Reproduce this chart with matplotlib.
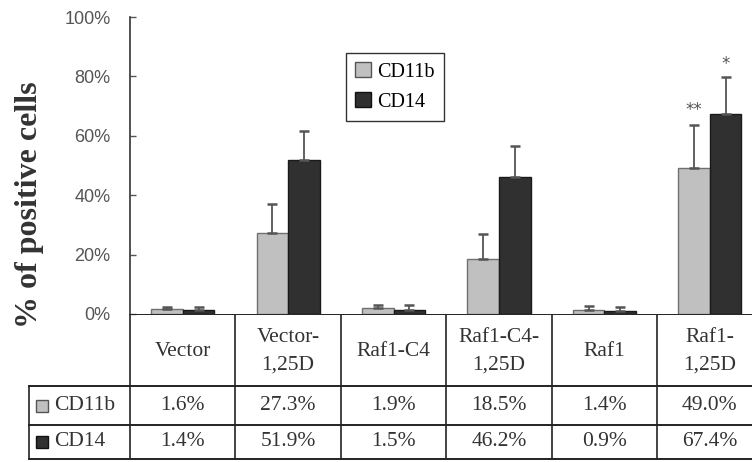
import numpy as np
import matplotlib.pyplot as plt
from matplotlib.patches import Patch

groups = ['Vector', 'Vector-\n1,25D', 'Raf1-C4', 'Raf1-C4-\n1,25D', 'Raf1', 'Raf1-\n1,25D']
cd11b = [1.6, 27.3, 1.9, 18.5, 1.4, 49.0]
cd14 = [1.4, 51.9, 1.5, 46.2, 0.9, 67.4]
cd11b_err = [0.8, 9.7, 1.1, 8.4, 1.3, 14.6]
cd14_err = [1.0, 9.7, 1.5, 10.4, 1.6, 12.4]
cd11b_txt = ['1.6%', '27.3%', '1.9%', '18.5%', '1.4%', '49.0%']
cd14_txt = ['1.4%', '51.9%', '1.5%', '46.2%', '0.9%', '67.4%']

light = '#c0c0c0'
dark = '#303030'
serif = 'Liberation Serif'

W, H = 752, 462
fig = plt.figure(figsize=(W / 100, H / 100), dpi=100)

# main bar axes
ax = fig.add_axes([130 / W, (H - 314) / H, (W - 130) / W, (314 - 17) / H])
x = np.arange(len(groups))
w = 0.3
zeros = np.zeros(len(groups))
ax.bar(x - w / 2, cd11b, w, color=light, edgecolor='#707070', linewidth=1,
       yerr=[zeros, cd11b_err], ecolor='#555555',
       error_kw=dict(elinewidth=1.3, capsize=3.5, capthick=1.8))
ax.bar(x + w / 2, cd14, w, color=dark, edgecolor='#1a1a1a', linewidth=1,
       yerr=[zeros, cd14_err], ecolor='#555555',
       error_kw=dict(elinewidth=1.3, capsize=3.5, capthick=1.8))

ax.set_xlim(-0.5, 5.4)
ax.set_ylim(0, 100)
ax.set_xticks([])
ax.set_yticks([0, 20, 40, 60, 80, 100])
ax.set_yticklabels(['0%', '20%', '40%', '60%', '80%', '100%'],
                   fontfamily='Liberation Sans', fontsize=13, color='#555555')
ax.tick_params(axis='y', direction='in', length=4, width=1, pad=14, colors='#555555')
for s in ['top', 'right', 'bottom']:
    ax.spines[s].set_visible(False)
ax.spines['left'].set_linewidth(1.2)
ax.spines['left'].set_color('#333333')

# significance marks
ax.text(5 - w / 2, cd11b[5] + cd11b_err[5] + 2, '**', ha='center', va='bottom',
        fontsize=12, color='#555555')
ax.text(5 + w / 2, cd14[5] + cd14_err[5] + 1.5, '*', ha='center', va='bottom',
        fontsize=12, color='#555555')

ax.legend(handles=[Patch(facecolor=light, edgecolor='#555555', label='CD11b'),
                   Patch(facecolor=dark, edgecolor='#111111', label='CD14')],
          loc='upper left', bbox_to_anchor=(346 / W, 1 - 53 / H),
          bbox_transform=fig.transFigure, borderaxespad=0, fancybox=False,
          edgecolor='#333333', framealpha=1, handlelength=0.8, handleheight=0.8,
          handletextpad=0.3, labelspacing=0.5, borderpad=0.45,
          prop={'family': serif, 'size': 14.5})

fig.text(30 / W, 1 - 205 / H, '% of positive cells', rotation=90, ha='center', va='center',
         fontfamily=serif, fontweight='bold', fontsize=23, color='#333333')

# data table below the axis
ppu = (W - 130) / 5.9
left_u = -0.5 - (130 - 28) / ppu
tax = fig.add_axes([28 / W, (H - 460) / H, (W - 28) / W, (460 - 314) / H])
tax.set_xlim(left_u, 5.4)
tax.set_ylim(146, 0)
tax.axis('off')

lc = '#222222'
tax.hlines(0, -0.5, 5.4, color=lc, lw=1.4)
tax.hlines([72, 111, 145], left_u, 5.4, color=lc, lw=1.4)
tax.vlines(np.arange(6) - 0.5, 0, 145, color=lc, lw=1.2)
tax.vlines(left_u + 0.01, 72, 145, color=lc, lw=1.2)

fs = 15.5
for i, g in enumerate(groups):
    tax.text(i, 37, g, ha='center', va='center', fontfamily=serif, fontsize=fs,
             color='#333333', linespacing=1.6)
    tax.text(i, 91.5, cd11b_txt[i], ha='center', va='center', fontfamily=serif,
             fontsize=fs, color='#333333')
    tax.text(i, 128, cd14_txt[i], ha='center', va='center', fontfamily=serif,
             fontsize=fs, color='#333333')

def pu(px):
    return left_u + (px - 28) / ppu

tax.plot(pu(42), 92, marker='s', markersize=9, markerfacecolor=light,
         markeredgecolor='#555555', clip_on=False)
tax.plot(pu(42), 128, marker='s', markersize=9, markerfacecolor=dark,
         markeredgecolor='#111111', clip_on=False)
tax.text(pu(54), 91.5, 'CD11b', ha='left', va='center', fontfamily=serif,
         fontsize=fs, color='#333333')
tax.text(pu(54), 128, 'CD14', ha='left', va='center', fontfamily=serif,
         fontsize=fs, color='#333333')

fig.savefig('out.png', dpi=100)
